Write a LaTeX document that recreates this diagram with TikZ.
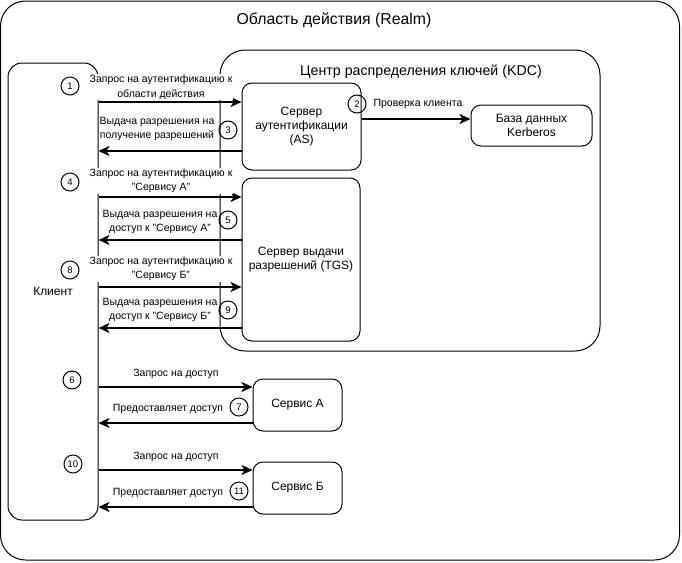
\documentclass[tikz,border=0pt]{standalone}
\usepackage{fontspec}
\setmainfont{Liberation Sans}
\usetikzlibrary{arrows.meta}

\tikzset{
  box/.style={draw, line width=1pt, rounded corners=10pt, align=center, inner sep=2pt,
    font=\fontsize{12}{14}\selectfont},
  num/.style={draw, line width=1pt, circle, minimum size=18pt, inner sep=0pt,
    font=\fontsize{9.5}{10}\selectfont},
  lbl/.style={fill=white, inner sep=1pt, align=center,
    font=\fontsize{10.5}{14.5}\selectfont},
  flow/.style={->, line width=2pt},
}

\begin{document}
\begin{tikzpicture}[x=1pt, y=-1pt, >={Stealth[length=11pt, width=10pt, inset=3pt]}]
    \useasboundingbox (0,0) rectangle (682,562);

    % areas
    \node[draw, line width=1pt, rounded corners=25pt, minimum width=679pt, minimum height=559pt] (realm) at (340,280.5) {};
    \node[font=\fontsize{15.8}{18}\selectfont] (realmtitle) at (334,20) {Область действия (Realm)};

    \node[draw, line width=1pt, rounded corners=25pt, minimum width=380pt, minimum height=301pt] (kdc) at (410,200.5) {};
    \node[font=\fontsize{14.2}{16}\selectfont] (kdctitle) at (421,72) {Центр распределения ключей (KDC)};

    \node[box, rounded corners=14pt, minimum width=90pt, minimum height=457pt] (client) at (53,291.5) {Клиент};

    % servers
    \node[box, minimum width=119pt, minimum height=87pt] (as) at (301.5,126.5) {Сервер\\аутентификации\\(AS)};
    \node[box, minimum width=121pt, minimum height=41pt] (db) at (531.5,125.5) {База данных\\Kerberos};
    \node[box, minimum width=118pt, minimum height=163pt] (tgs) at (301,259.5) {Сервер выдачи\\разрешений (TGS)};
    \node[box, minimum width=89pt, minimum height=52pt] (srva) at (297.5,405) {Сервис А};
    \node[box, minimum width=89pt, minimum height=52pt] (srvb) at (297.5,488) {Сервис Б};

    % messages
    \draw[flow] (client.east |- 0,102) -- (as.west |- 0,102);
    \draw[flow] (as.west |- 0,151) -- (client.east |- 0,151);
    \draw[flow] (as.east |- 0,119) -- (db.west |- 0,119);
    \draw[flow] (client.east |- 0,197) -- (tgs.west |- 0,197);
    \draw[flow] (tgs.west |- 0,240) -- (client.east |- 0,240);
    \draw[flow] (client.east |- 0,287) -- (tgs.west |- 0,287);
    \draw[flow] (tgs.west |- 0,328) -- (client.east |- 0,328);
    \draw[flow] (client.east |- 0,387) -- (srva.west |- 0,387);
    \draw[flow] (srva.west |- 0,423) -- (client.east |- 0,423);
    \draw[flow] (client.east |- 0,470) -- (srvb.west |- 0,470);
    \draw[flow] (srvb.west |- 0,507) -- (client.east |- 0,507);

    \node[lbl] (l1) at (161,87) {Запрос на аутентификацию к\\области действия};
    \node[lbl] (l3) at (157,129) {Выдача разрешения на\\получение разрешений};
    \node[lbl] (l2) at (418,104) {Проверка клиента};
    \node[lbl] (l4) at (161,181) {Запрос на аутентификацию к\\"Сервису А"};
    \node[lbl] (l5) at (160,222) {Выдача разрешения на\\доступ к "Сервису А"};
    \node[lbl] (l8) at (161,269) {Запрос на аутентификацию к\\"Сервису Б"};
    \node[lbl] (l9) at (160,310) {Выдача разрешения на\\доступ к "Сервису Б"};
    \node[lbl] (l6) at (176,374) {Запрос на доступ};
    \node[lbl] (l7) at (168,409) {Предоставляет доступ};
    \node[lbl] (l10) at (176,457) {Запрос на доступ};
    \node[lbl] (l11) at (168,493) {Предоставляет доступ};

    % step numbers
    \node[num] (n1) at (70,86) {1};
    \node[num] (n2) at (357,104) {2};
    \node[num] (n3) at (228,130) {3};
    \node[num] (n4) at (70,182) {4};
    \node[num] (n5) at (228,220) {5};
    \node[num] (n8) at (70,270) {8};
    \node[num] (n9) at (228,310) {9};
    \node[num] (n6) at (72,380) {6};
    \node[num] (n7) at (239,407) {7};
    \node[num] (n10) at (73,464) {10};
    \node[num] (n11) at (239,491) {11};
\end{tikzpicture}
\end{document}
